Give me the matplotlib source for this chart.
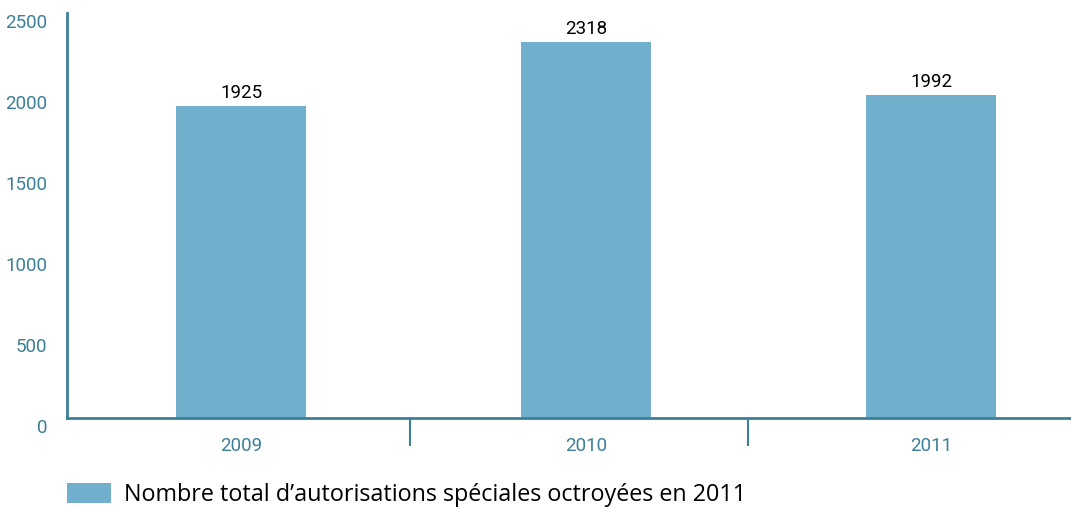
import matplotlib
matplotlib.use("Agg")
import matplotlib.pyplot as plt
import matplotlib.transforms as mtransforms

years = ["2009", "2010", "2011"]
totals = [1925, 2318, 1992]
yticks = [0, 500, 1000, 1500, 2000, 2500]
legend_label = "Nombre total d\u2019autorisations spéciales octroyées en 2011"

teal = "#3c7f98"
bar_color = "#70b0cd"
narrow = ["Roboto", "DejaVu Sans"]

fig = plt.figure(figsize=(10.71, 5.08), dpi=100)
ax = fig.add_axes([67 / 1071, 90 / 508, 1 - 67 / 1071, (418 - 12.5) / 508])

x = list(range(len(years)))
bars = ax.bar(x, totals, width=0.377, color=bar_color, zorder=2)

for xi, v in zip(x, totals):
    ax.text(xi, v + 25, str(v), ha="center", va="bottom", fontsize=13.5,
            family=narrow, color="black")

ax.set_xlim(-0.505, 2.405)
ax.set_ylim(0, 2500)

for side in ("top", "right"):
    ax.spines[side].set_visible(False)
for side in ("left", "bottom"):
    ax.spines[side].set_color(teal)
    ax.spines[side].set_linewidth(2)

ax.set_yticks(yticks)
ax.set_yticklabels([str(t) for t in yticks], family=narrow, fontsize=13.5, color=teal)
ax.tick_params(axis="y", length=0, pad=14)
offset = mtransforms.ScaledTranslation(0, -8 / 100, fig.dpi_scale_trans)
for lbl in ax.get_yticklabels():
    lbl.set_transform(lbl.get_transform() + offset)

# category boundaries as ticks, labels centred under bars
ax.set_xticks([0.49, 1.47])
ax.set_xticklabels([])
ax.tick_params(axis="x", length=20, width=1.5, color=teal, direction="out")
for xi, yr in zip(x, years):
    ax.text(xi, -0.068, yr, transform=ax.get_xaxis_transform(), ha="center",
            va="center", fontsize=13.5, family=narrow, color=teal)

fig.legend([bars], [legend_label], loc="center left",
           bbox_to_anchor=(67 / 1071, 13 / 508), frameon=False,
           borderpad=0, borderaxespad=0,
           handlelength=1.88, handleheight=0.94, handletextpad=0.56,
           prop={"family": ["Open Sans", "DejaVu Sans"], "size": 16.8})

fig.savefig("out.png", dpi=100)
